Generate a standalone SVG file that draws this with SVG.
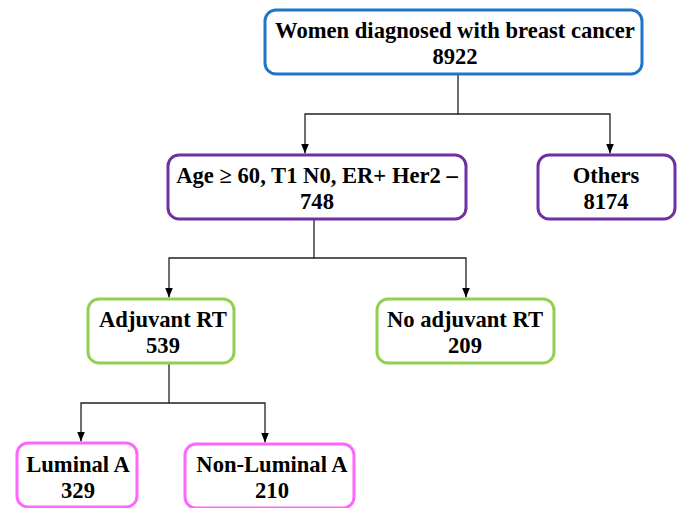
<svg xmlns="http://www.w3.org/2000/svg" width="681" height="508" viewBox="0 0 681 508">
<defs>
<style>
.box{fill:#fff;stroke-width:3}
.blue{stroke:#1F75C6}
.purple{stroke:#7030A0}
.green{stroke:#92D050}
.pink{stroke:#FF66FF}
text{font-family:"Liberation Serif","Times New Roman",serif;font-weight:bold;font-size:22.6px;fill:#000;text-anchor:middle}
.conn{fill:none;stroke:#222;stroke-width:1.3;marker-end:url(#arr)}
</style>
<marker id="arr" viewBox="0 0 10 8" refX="10" refY="4" markerWidth="10" markerHeight="8" markerUnits="userSpaceOnUse" orient="auto">
<path d="M0,0 L10,4 L0,8 z" fill="#000"/>
</marker>
</defs>
<rect width="681" height="508" fill="#fff"/>
<g id="connectors">
<path class="conn" d="M458,74 V114 H305 V153.5"/>
<path class="conn" d="M458,114 H610 V153.5"/>
<path class="conn" d="M314,219 V258 H169 V297.5"/>
<path class="conn" d="M314,258 H466 V297.5"/>
<path class="conn" d="M169,363 V403 H81 V441.5"/>
<path class="conn" d="M169,403 H265 V442.5"/>
</g>
<g id="n-women">
<rect class="box blue" x="265" y="10" width="377" height="64" rx="11"/>
<text x="455" y="38">Women diagnosed with breast cancer</text>
<text x="455" y="64">8922</text>
</g>
<g id="n-age">
<rect class="box purple" x="168" y="155" width="298" height="64" rx="11"/>
<text x="317" y="183">Age ≥ 60, T1 N0, ER+ Her2 –</text>
<text x="317" y="209">748</text>
</g>
<g id="n-others">
<rect class="box purple" x="538" y="155" width="137" height="64" rx="11"/>
<text x="606" y="183">Others</text>
<text x="606" y="209">8174</text>
</g>
<g id="n-adjuvant">
<rect class="box green" x="88" y="299" width="146" height="64" rx="11"/>
<text x="163" y="327">Adjuvant RT</text>
<text x="163" y="353">539</text>
</g>
<g id="n-noadjuvant">
<rect class="box green" x="377" y="299" width="177" height="64" rx="11"/>
<text x="465" y="327">No adjuvant RT</text>
<text x="465" y="353">209</text>
</g>
<g id="n-luminal">
<rect class="box pink" x="17" y="443" width="120" height="64" rx="11"/>
<text x="78" y="472">Luminal A</text>
<text x="78" y="498">329</text>
</g>
<g id="n-nonluminal">
<rect class="box pink" x="185" y="444" width="169" height="64" rx="11"/>
<text x="272" y="472">Non-Luminal A</text>
<text x="272" y="498">210</text>
</g>
</svg>
